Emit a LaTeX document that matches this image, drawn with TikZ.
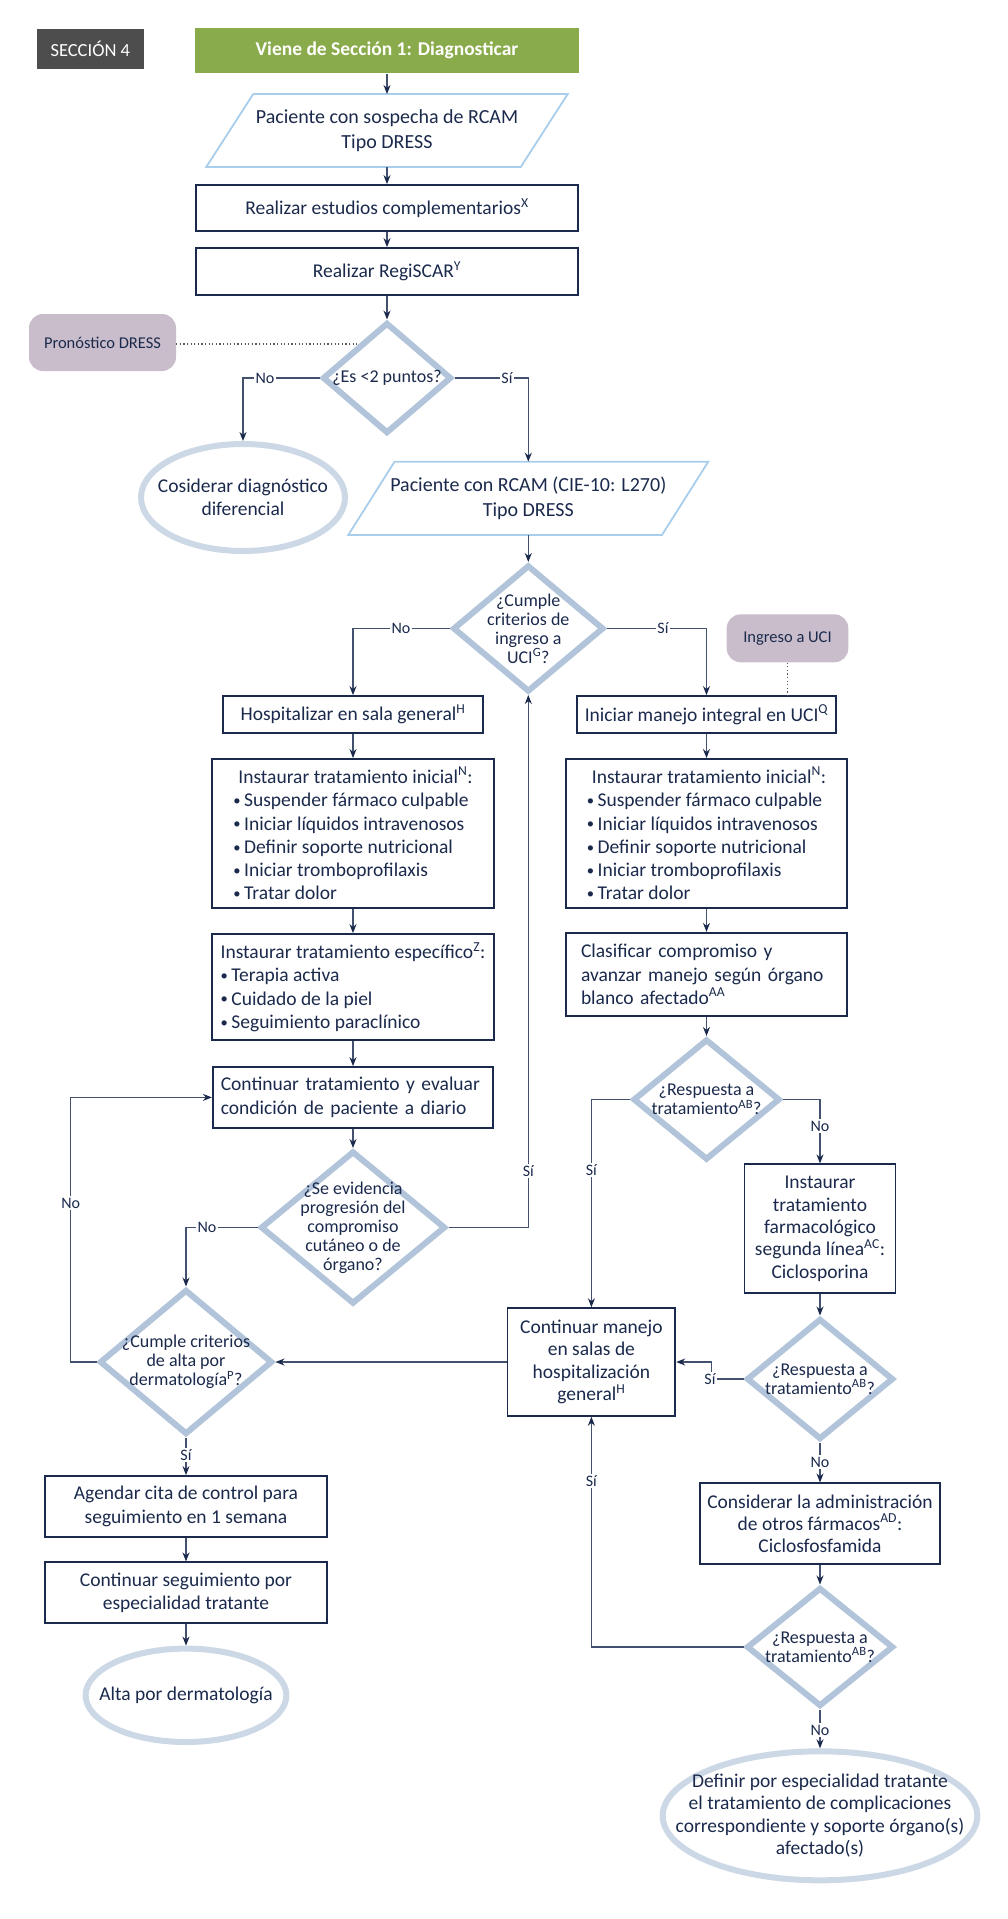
\documentclass[tikz,border=0pt]{standalone}
\usepackage{fontspec}
\setmainfont{Carlito}
\usetikzlibrary{shapes.geometric,arrows.meta,calc}
\definecolor{navy}{HTML}{1B2A4C}
\definecolor{conn}{HTML}{44516E}
\definecolor{diab}{HTML}{B1C4DA}
\definecolor{ellb}{HTML}{CCD8E6}
\definecolor{parb}{HTML}{A9CEEC}
\definecolor{grn}{HTML}{8AAB4B}
\definecolor{secg}{HTML}{4D4D4D}
\definecolor{mauve}{HTML}{C9BDCB}
\newcommand{\bul}{\raisebox{1.2pt}{\scalebox{0.75}{•}}\hspace{3.5pt}}
\begin{document}
\begin{tikzpicture}[x=1pt,y=-1pt,
  every node/.style={text=navy, font=\fontsize{19.5}{23.3}\selectfont},
  box/.style={draw=navy, line width=1.8pt, rectangle, inner sep=0pt, align=center},
  dia/.style={draw=diab, line width=6pt, shape=diamond, inner sep=0pt},
  diatxt/.style={font=\fontsize{18}{19}\selectfont, align=center, text=navy},
  ell/.style={draw=ellb, line width=6pt, shape=ellipse, inner sep=0pt},
  elltxt/.style={font=\fontsize{19.5}{22.5}\selectfont, align=center, text=navy},
  para/.style={inner sep=0pt, outer sep=0pt, align=center, font=\fontsize{20}{24.5}\selectfont},
  parline/.style={draw=parb, line width=1.8pt},
  note/.style={fill=mauve, rounded corners=14pt, font=\fontsize{16.5}{20}\selectfont, inner sep=0pt},
  lbl/.style={fill=white, inner sep=1.5pt, font=\fontsize{16}{19}\selectfont},
  arr/.style={draw=conn, line width=1.3pt, -{Stealth[length=9pt,width=7pt,color=navy]}},
  dots/.style={draw=black!65, line width=1.2pt, dash pattern=on 1.2pt off 2.4pt},
]
\useasboundingbox (0,0) rectangle (1007,1919);
\fill[white] (0,0) rectangle (1007,1919);

% ---------- top ----------
\node[box, draw=none, fill=secg, text=white, minimum width=106.5pt, minimum height=39.7pt, font=\fontsize{18.5}{20}\selectfont] (sec) at (90.3,48.9) {SECCIÓN 4};
\node[box, draw=none, fill=grn, text=white, minimum width=384pt, minimum height=45.6pt, font=\fontsize{19.5}{23}\selectfont\bfseries] (start) at (387,50.5) {Viene de Sección 1: Diagnosticar};
\node[para, minimum width=361.5pt, minimum height=73pt] (p1) at (387,130.5) {Paciente con sospecha de RCAM\\Tipo DRESS};
\draw[parline] (p1.south west) -- ([xshift=47pt]p1.north west) -- (p1.north east) -- ([xshift=-47pt]p1.south east) -- cycle;
\node[box, minimum width=382pt, minimum height=46pt] (bx) at (387,208) {Realizar estudios complementarios\textsuperscript{X}};
\node[box, minimum width=382pt, minimum height=47pt] (by) at (387,271.5) {Realizar RegiSCAR\textsuperscript{Y}};
\node[dia, minimum width=129pt, minimum height=111pt, label={[diatxt]center:{¿Es <2 puntos?}}] (d1) at (387,378) {};
\node[note, minimum width=147pt, minimum height=57pt] (pron) at (102.5,342.5) {Pronóstico DRESS};
\node[ell, minimum width=204pt, minimum height=107pt, label={[elltxt]center:{Cosiderar diagnóstico\\diferencial}}] (e1) at (243,497.5) {};
\node[para, minimum width=360pt, minimum height=73.3pt] (p2) at (528.3,498.3) {Paciente con RCAM (CIE-10: L270)\\Tipo DRESS};
\draw[parline] (p2.south west) -- ([xshift=46.3pt]p2.north west) -- (p2.north east) -- ([xshift=-46.3pt]p2.south east) -- cycle;
\node[dia, minimum width=151pt, minimum height=127pt, label={[diatxt]center:{¿Cumple\\criterios de\\ingreso a\\UCI\textsuperscript{G}?}}] (d2) at (528.3,628.5) {};
\node[note, minimum width=121.6pt, minimum height=48pt] (uci) at (787.5,638.3) {Ingreso a UCI};

% ---------- left column ----------
\node[box, minimum width=259.4pt, minimum height=37pt] (hosp) at (353,714.5) {Hospitalizar en sala general\textsuperscript{H}};
\node[box, align=left, minimum width=281.3pt, minimum height=149.3pt] (tiL) at (353,833.6) {\hspace*{5pt}Instaurar tratamiento inicial\textsuperscript{N}:\\\bul Suspender fármaco culpable\\\bul Iniciar líquidos intravenosos\\\bul Definir soporte nutricional\\\bul Iniciar tromboprofilaxis\\\bul Tratar dolor};
\node[box, align=left, minimum width=281.3pt, minimum height=106pt] (teL) at (353,987) {Instaurar tratamiento específico\textsuperscript{Z}:\\\bul Terapia activa\\\bul Cuidado de la piel\\\bul Seguimiento paraclínico};
\node[box, align=left, inner xsep=8pt, text width=264.4pt, minimum height=60.7pt] (ct) at (353,1097.4) {Continuar tratamiento y evaluar\\condición de paciente a diario};
\node[dia, minimum width=185pt, minimum height=153pt, label={[diatxt]center:{¿Se evidencia\\progresión del\\compromiso\\cutáneo o de\\órgano?}}] (d3) at (353,1227.5) {};
\node[dia, minimum width=173pt, minimum height=145pt, label={[diatxt]center:{¿Cumple criterios\\de alta por\\dermatología\textsuperscript{P}?}}] (d4) at (186,1362) {};
\node[box, minimum width=282.2pt, minimum height=61pt] (ag) at (186,1506.5) {Agendar cita de control para\\seguimiento en 1 semana};
\node[box, minimum width=282.2pt, minimum height=61pt] (cs) at (186,1592.8) {Continuar seguimiento por\\especialidad tratante};
\node[ell, minimum width=200.8pt, minimum height=93.4pt, label={[elltxt]center:{Alta por dermatología}}] (e2) at (186,1695.3) {};

% ---------- right column ----------
\node[box, minimum width=259.5pt, minimum height=37pt] (iniuci) at (706.5,714.5) {Iniciar manejo integral en UCI\textsuperscript{Q}};
\node[box, align=left, minimum width=281.3pt, minimum height=149.3pt] (tiR) at (706.5,833.6) {\hspace*{5pt}Instaurar tratamiento inicial\textsuperscript{N}:\\\bul Suspender fármaco culpable\\\bul Iniciar líquidos intravenosos\\\bul Definir soporte nutricional\\\bul Iniciar tromboprofilaxis\\\bul Tratar dolor};
\node[box, align=left, inner xsep=15pt, text width=251pt, minimum height=83pt] (cl) at (706.5,974.3) {Clasificar compromiso y\\avanzar manejo según órgano\\blanco afectado\textsuperscript{AA}};
\node[dia, minimum width=147pt, minimum height=121pt, label={[diatxt]center:{¿Respuesta a\\tratamiento\textsuperscript{AB}?}}] (d5) at (706.5,1099.5) {};
\node[box, minimum width=151pt, minimum height=129pt, font=\fontsize{19.5}{22.3}\selectfont] (fa) at (820,1228.8) {Instaurar\\tratamiento\\farmacológico\\segunda línea\textsuperscript{AC}:\\Ciclosporina};
\node[box, minimum width=167.8pt, minimum height=107.7pt, font=\fontsize{19.5}{22.4}\selectfont] (cm) at (591.4,1362) {Continuar manejo\\en salas de\\hospitalización\\general\textsuperscript{H}};
\node[dia, minimum width=147pt, minimum height=121pt, label={[diatxt]center:{¿Respuesta a\\tratamiento\textsuperscript{AB}?}}] (d6) at (820,1379) {};
\node[box, minimum width=240.7pt, minimum height=80.7pt, font=\fontsize{19.5}{22.3}\selectfont] (co) at (820,1523.7) {Considerar la administración\\de otros fármacos\textsuperscript{AD}:\\Ciclosfosfamida};
\node[dia, minimum width=147pt, minimum height=119pt, label={[diatxt]center:{¿Respuesta a\\tratamiento\textsuperscript{AB}?}}] (d7) at (820,1647) {};
\node[ell, minimum width=314.6pt, minimum height=129pt, label={[elltxt]center:{Definir por especialidad tratante\\el tratamiento de complicaciones\\correspondiente y soporte órgano(s)\\afectado(s)}}] (e3) at (820,1815.8) {};

% ---------- helper coordinates ----------
\coordinate (dp) at ($(d1.west)!0.58!(d1.north)$);
\coordinate (c4) at (70.7,1362);
\coordinate (c6) at (711.7,1379);

% ---------- connectors ----------
\draw[arr] (start.south) -- (p1.north);
\draw[arr] (p1.south) -- (bx.north);
\draw[arr] (bx.south) -- (by.north);
\draw[arr] (by.south) -- (d1.north);
\draw[dots] (pron.east |- dp) -- (dp);
\draw[arr] (d1.west) -| (e1.north);
\draw[arr] (d1.east) -| (p2.north);
\draw[arr] (p2.south) -- (d2.north);
\draw[arr] (d2.west) -| (hosp.north);
\draw[arr] (d2.east) -| (iniuci.north);
\draw[dots] (uci.south) -- (uci.south |- iniuci.north);
\draw[arr] (hosp.south) -- (tiL.north);
\draw[arr] (tiL.south) -- (teL.north);
\draw[arr] (teL.south) -- (ct.north);
\draw[arr] (ct.south) -- (d3.north);
\draw[arr] (d3.east) -| (d2.south);
\draw[arr] (d3.west) -| (d4.north);
\draw[arr] (d4.west) -- (c4) |- (ct.west);
\draw[arr] (cm.west) -- (d4.east);
\draw[arr] (d4.south) -- (ag.north);
\draw[arr] (ag.south) -- (cs.north);
\draw[arr] (cs.south) -- (e2.north);
\draw[arr] (iniuci.south) -- (tiR.north);
\draw[arr] (tiR.south) -- (cl.north);
\draw[arr] (cl.south) -- (d5.north);
\draw[arr] (d5.west) -| (cm.north);
\draw[arr] (d5.east) -| (fa.north);
\draw[arr] (fa.south) -- (d6.north);
\draw[arr] (d6.west) -- (c6) |- (cm.east);
\draw[arr] (d6.south) -- (co.north);
\draw[arr] (co.south) -- (d7.north);
\draw[arr] (d7.west) -| (cm.south);
\draw[arr] (d7.south) -- (e3.north);

% ---------- branch labels ----------
\node[lbl] (lno1) at (265,378) {No};
\node[lbl] (lsi1) at (507,378) {Sí};
\node[lbl] (lno2) at (401,628.5) {No};
\node[lbl] (lsi2) at (663,628.5) {Sí};
\node[lbl] (lsi3) at (528.3,1171) {Sí};
\node[lbl] (lno3) at (207,1227.5) {No};
\node[lbl] (lno4) at (70.7,1203) {No};
\node[lbl] (lsi4) at (186,1455) {Sí};
\node[lbl] (lsi5) at (591.4,1170) {Sí};
\node[lbl] (lno5) at (820,1126) {No};
\node[lbl] (lsi6) at (710,1379) {Sí};
\node[lbl] (lno6) at (820,1462) {No};
\node[lbl] (lsi7) at (591.4,1481) {Sí};
\node[lbl] (lno7) at (820,1730) {No};
\end{tikzpicture}
\end{document}
